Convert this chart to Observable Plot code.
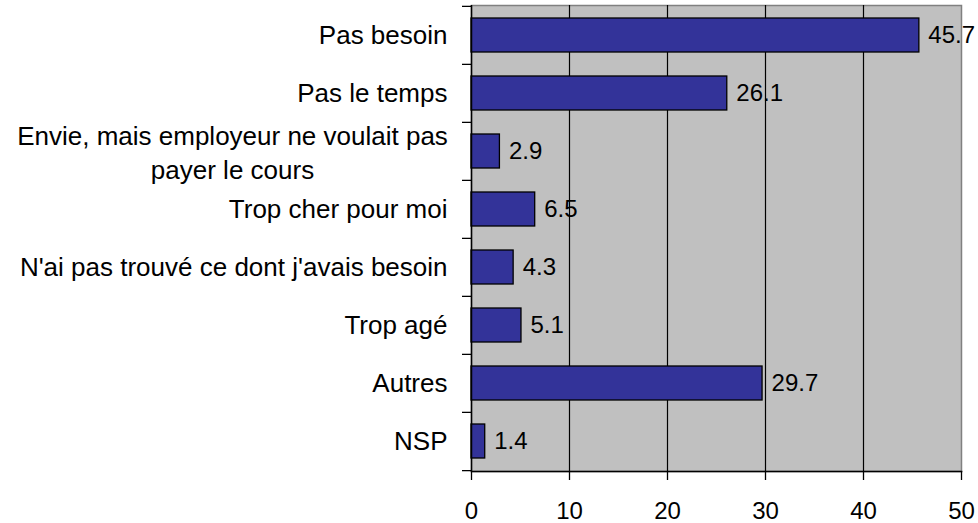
<!DOCTYPE html>
<html>
<head>
<meta charset="utf-8">
<script src="https://cdn.jsdelivr.net/npm/d3@7"></script>
<script src="https://cdn.jsdelivr.net/npm/@observablehq/plot@0.6"></script>
<style>
  html, body { margin: 0; padding: 0; background: #ffffff; }
  svg { display: block; }
</style>
</head>
<body>
<div id="chart"></div>
<script>
const categories = [
  "Pas besoin",
  "Pas le temps",
  "Envie, mais employeur ne voulait pas\npayer le cours",
  "Trop cher pour moi",
  "N'ai pas trouvé ce dont j'avais besoin",
  "Trop agé",
  "Autres",
  "NSP"
];
const values = [45.7, 26.1, 2.9, 6.5, 4.3, 5.1, 29.7, 1.4];
const xTicks = [0, 10, 20, 30, 40, 50];
const gridTicks = [10, 20, 30, 40];

const data = categories.map((c, i) => ({category: c, value: values[i]}));
const singleLine = data.filter(d => !d.category.includes("\n"));
const multiLine = data.filter(d => d.category.includes("\n"));

const W = 978, H = 523;
const mTop = 5, mBottom = 52, mLeft = 471, mRight = 17;
const step = (H - mTop - mBottom) / categories.length;
const font = "'Liberation Sans', Arial, sans-serif";

const chart = Plot.plot({
  width: W,
  height: H,
  marginTop: mTop,
  marginBottom: mBottom,
  marginLeft: mLeft,
  marginRight: mRight,
  style: {fontFamily: font, background: "#ffffff", color: "#000000"},
  x: {domain: [0, 50], axis: null, label: null},
  y: {domain: categories, padding: 0, axis: null, label: null},
  marks: [
    Plot.frame({fill: "#c0c0c0", stroke: "#808080", strokeWidth: 1.5}),
    Plot.ruleX(gridTicks, {stroke: "#000000", strokeWidth: 1.2}),
    Plot.barX(data, {
      y: "category", x: "value",
      fill: "#333399", stroke: "#000000", strokeWidth: 1.3,
      insetTop: 12, insetBottom: 12
    }),
    Plot.text(data, {
      y: "category", x: "value",
      text: d => d3.format(".1f")(d.value),
      textAnchor: "start", dx: 9, fontSize: 24, fill: "#000000"
    }),
    Plot.ruleX([0], {stroke: "#000000", strokeWidth: 1.5}),
    Plot.frame({anchor: "bottom", stroke: "#000000", strokeWidth: 1.5}),
    // category boundary ticks on the left axis
    Plot.ruleY(categories, {y: d => d, x1: -0.92, x2: 0, dy: -step / 2, stroke: "#000000", strokeWidth: 1.3}),
    Plot.ruleY(categories.slice(-1), {y: d => d, x1: -0.92, x2: 0, dy: step / 2, stroke: "#000000", strokeWidth: 1.3}),
    // category labels
    Plot.text(singleLine, {
      y: "category", x: 0, text: "category",
      textAnchor: "end", dx: -24, fontSize: 26, fill: "#000000"
    }),
    Plot.text(multiLine, {
      y: "category", x: 0, text: "category",
      textAnchor: "middle", dx: -239, fontSize: 26, lineHeight: 1.3, fill: "#000000"
    }),
    Plot.axisX(xTicks, {
      label: null,
      tickSize: 9, tickPadding: 21, fontSize: 24, stroke: "#000000", strokeWidth: 1.3,
      fill: "#000000", tickFormat: d => String(d)
    })
  ]
});
document.getElementById("chart").appendChild(chart);
</script>
</body>
</html>
